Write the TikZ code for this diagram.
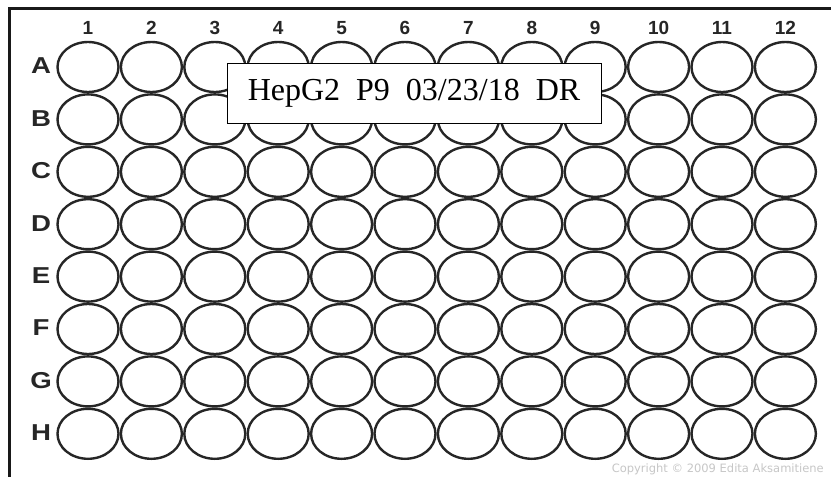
\documentclass[tikz,border=0pt]{standalone}
\usepackage{fontspec}
\setmainfont{Liberation Serif}
\newfontfamily\arialfont{Liberation Sans}
\newfontfamily\copyfont{DejaVu Sans}
\begin{document}
\begin{tikzpicture}[x=1pt,y=-1pt,
  well/.style={draw=black!85,line width=2.4pt},
  collabel/.style={font=\arialfont\bfseries\fontsize{19}{19}\selectfont,text=black!85,inner sep=0pt},
  rowlabel/.style={font=\arialfont\bfseries\fontsize{23}{23}\selectfont,text=black!85,inner sep=0pt,xscale=1.2},
  labelbox/.style={draw=black,line width=1pt,fill=white,minimum width=374pt,minimum height=60pt,inner sep=0pt,font=\fontsize{32}{32}\selectfont},
  frame/.style={draw=black!90,line width=3pt}]
\useasboundingbox (0,0) rectangle (831,477);
\fill[white] (0,0) rectangle (831,477);
\draw[frame] (9,477) -- (9,8) -- (831,8);
\foreach \c in {1,...,12}{
  \node[collabel] (col\c) at ({88+63.4*(\c-1)},28) {\c};
}
\foreach \r/\l [count=\i from 0] in {A/A,B/B,C/C,D/D,E/E,F/F,G/G,H/H}{
  \node[rowlabel] (row\r) at (41,{66+52.4*\i}) {\l};
  \foreach \c in {1,...,12}{
    \draw[well] ({88+63.4*(\c-1)},{67+52.4*\i}) ellipse [x radius=30.5, y radius=25];
  }
}
\node[labelbox] (label) at (414,93) {HepG2\ \ P9\ \ 03/23/18\ \ DR};
\node[font=\copyfont\fontsize{11.5}{11.5}\selectfont,text=black!22,anchor=east,inner sep=0pt] (copy) at (824,469) {Copyright \textcopyright\ 2009 Edita Aksamitiene};
\end{tikzpicture}
\end{document}
